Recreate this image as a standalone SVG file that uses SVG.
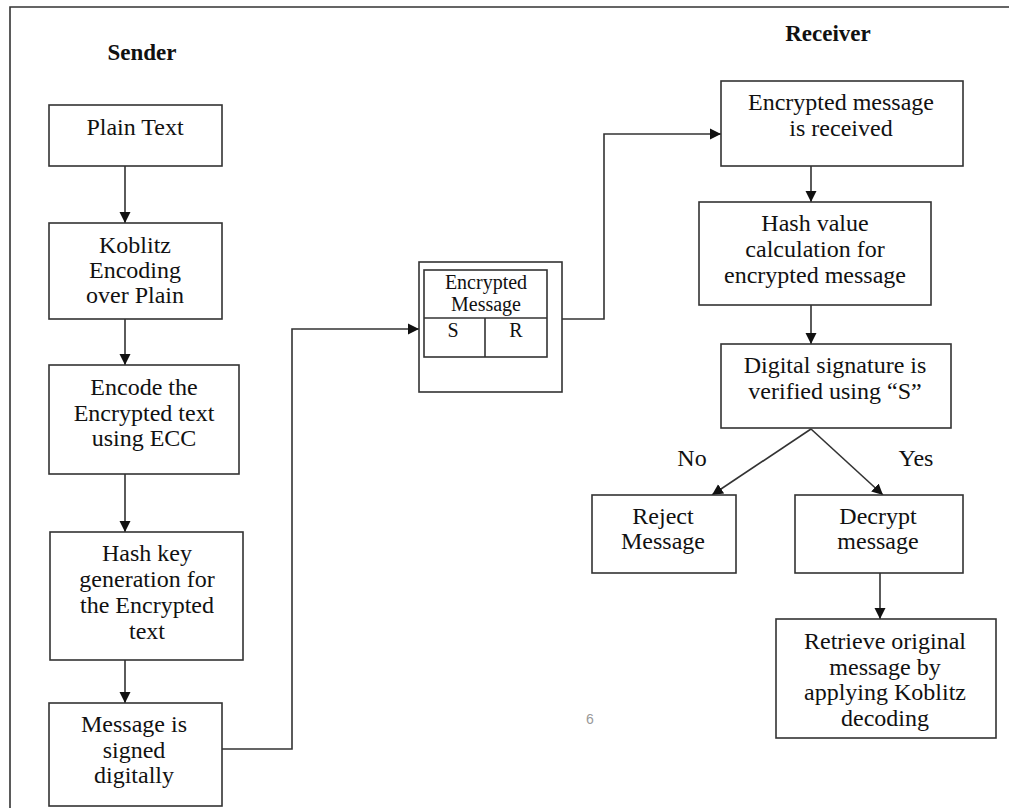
<svg xmlns="http://www.w3.org/2000/svg" width="1009" height="808" viewBox="0 0 1009 808">
<defs>
<style>
.box{fill:#fff;stroke:#333;stroke-width:1.6}
.ln{fill:none;stroke:#333;stroke-width:1.6}
.t{font-family:"Liberation Serif","Times New Roman",serif;font-size:24px;fill:#111;text-anchor:middle}
.h{font-family:"Liberation Serif","Times New Roman",serif;font-size:23px;font-weight:bold;fill:#111;text-anchor:middle}
</style>
<marker id="arr" markerUnits="userSpaceOnUse" markerWidth="12" markerHeight="12" refX="11" refY="6" orient="auto" viewBox="0 0 12 12">
<path d="M0,0.5 L11,6 L0,11.5 z" fill="#111"/>
</marker>
</defs>
<rect width="1009" height="808" fill="#fff"/>
<g id="frame">
<path class="ln" d="M10,808 V7 H1009"/>
</g>
<g id="headings">
<text class="h" x="142" y="60">Sender</text>
<text class="h" x="828" y="41">Receiver</text>
</g>
<g id="connectors">
<line class="ln" x1="125" y1="166" x2="125" y2="223" marker-end="url(#arr)"/>
<line class="ln" x1="125" y1="319" x2="125" y2="365" marker-end="url(#arr)"/>
<line class="ln" x1="125" y1="474" x2="125" y2="532" marker-end="url(#arr)"/>
<line class="ln" x1="125" y1="660" x2="125" y2="703" marker-end="url(#arr)"/>
<path class="ln" d="M222,749 H292 V329 H419" marker-end="url(#arr)"/>
<path class="ln" d="M562,319 H604 V134 H721" marker-end="url(#arr)"/>
<line class="ln" x1="811" y1="166" x2="811" y2="202" marker-end="url(#arr)"/>
<line class="ln" x1="811" y1="305" x2="811" y2="344" marker-end="url(#arr)"/>
<line class="ln" x1="811" y1="429" x2="712" y2="495" marker-end="url(#arr)"/>
<line class="ln" x1="811" y1="429" x2="883" y2="495" marker-end="url(#arr)"/>
<line class="ln" x1="880" y1="573" x2="880" y2="619" marker-end="url(#arr)"/>
<text class="t" x="692" y="466">No</text>
<text class="t" x="916" y="466">Yes</text>
</g>
<g id="plain-text">
<rect class="box" x="49" y="105" width="173" height="61"/>
<text class="t" x="135" y="135">Plain Text</text>
</g>
<g id="koblitz">
<rect class="box" x="49" y="223" width="173" height="96"/>
<text class="t" x="135" y="253">Koblitz</text>
<text class="t" x="135" y="278">Encoding</text>
<text class="t" x="135" y="303">over Plain</text>
</g>
<g id="encode">
<rect class="box" x="49" y="365" width="190" height="109"/>
<text class="t" x="144" y="395">Encode the</text>
<text class="t" x="144" y="421">Encrypted text</text>
<text class="t" x="144" y="446">using ECC</text>
</g>
<g id="hash-key">
<rect class="box" x="50" y="532" width="193" height="128"/>
<text class="t" x="147" y="561">Hash key</text>
<text class="t" x="147" y="587">generation for</text>
<text class="t" x="147" y="613">the Encrypted</text>
<text class="t" x="147" y="639">text</text>
</g>
<g id="signed">
<rect class="box" x="49" y="703" width="173" height="103"/>
<text class="t" x="134" y="732">Message is</text>
<text class="t" x="134" y="758">signed</text>
<text class="t" x="134" y="783">digitally</text>
</g>
<g id="encrypted-packet">
<rect class="box" x="419" y="262" width="143" height="130"/>
<rect class="box" x="424" y="270" width="123" height="87"/>
<line class="ln" x1="424" y1="318" x2="547" y2="318"/>
<line class="ln" x1="485" y1="318" x2="485" y2="357"/>
<text class="t" x="486" y="289" style="font-size:20px">Encrypted</text>
<text class="t" x="486" y="311" style="font-size:20px">Message</text>
<text class="t" x="453" y="337" style="font-size:20px">S</text>
<text class="t" x="516" y="337" style="font-size:20px">R</text>
</g>
<g id="received">
<rect class="box" x="721" y="81" width="242" height="85"/>
<text class="t" x="841" y="110">Encrypted message</text>
<text class="t" x="841" y="136">is received</text>
</g>
<g id="hash-value">
<rect class="box" x="699" y="202" width="232" height="103"/>
<text class="t" x="815" y="231">Hash value</text>
<text class="t" x="815" y="257">calculation for</text>
<text class="t" x="815" y="283">encrypted message</text>
</g>
<g id="verify">
<rect class="box" x="721" y="344" width="230" height="84"/>
<text class="t" x="835" y="373">Digital signature is</text>
<text class="t" x="835" y="399">verified using “S”</text>
</g>
<g id="reject">
<rect class="box" x="592" y="495" width="144" height="78"/>
<text class="t" x="663" y="524">Reject</text>
<text class="t" x="663" y="549">Message</text>
</g>
<g id="decrypt">
<rect class="box" x="795" y="495" width="168" height="78"/>
<text class="t" x="878" y="524">Decrypt</text>
<text class="t" x="878" y="549">message</text>
</g>
<g id="retrieve">
<rect class="box" x="776" y="619" width="220" height="119"/>
<text class="t" x="885" y="649">Retrieve original</text>
<text class="t" x="885" y="675">message by</text>
<text class="t" x="885" y="700">applying Koblitz</text>
<text class="t" x="885" y="726">decoding</text>
</g>
<g id="page-number">
<text x="590" y="724" style="font-family:'Liberation Sans',Arial,sans-serif;font-size:14px;fill:#999;text-anchor:middle">6</text>
</g>
</svg>
